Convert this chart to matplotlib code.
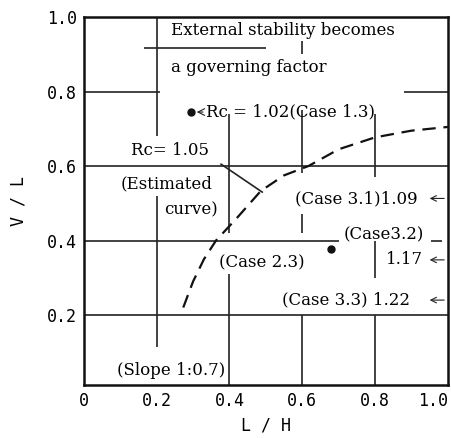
import matplotlib
matplotlib.use('Agg')
from matplotlib import pyplot as plt

# axis ticks
x_ticks = [0, 0.2, 0.4, 0.6, 0.8, 1.0]
x_tick_labels = ['0', '0.2', '0.4', '0.6', '0.8', '1.0']
y_ticks = [0.2, 0.4, 0.6, 0.8, 1.0]
y_tick_labels = ['0.2', '0.4', '0.6', '0.8', '1.0']

# estimated curve (L/H, V/L)
curve_x = [0.273, 0.30, 0.33, 0.363, 0.42, 0.486, 0.55, 0.617, 0.70, 0.80, 0.90, 1.0]
curve_y = [0.22, 0.29, 0.35, 0.40, 0.46, 0.533, 0.575, 0.60, 0.645, 0.677, 0.695, 0.705]

# case points
point_x = [0.295, 0.678]
point_y = [0.745, 0.377]

# remaining pieces of the grid (the scan has them cut where text sits)
h_segments = [(0.8, 0.0, 0.21), (0.8, 0.88, 1.0), (0.6, 0.0, 1.0),
              (0.4, 0.0, 0.70), (0.4, 0.955, 0.985), (0.2, 0.0, 1.0),
              (0.917, 0.165, 0.50)]
v_segments = [(0.2, 0.68, 1.0), (0.2, 0.113, 0.52),
              (0.4, 0.0, 0.31), (0.4, 0.42, 0.74),
              (0.6, 0.0, 0.2), (0.6, 0.42, 0.47), (0.6, 0.58, 0.75), (0.6, 0.90, 0.935),
              (0.8, 0.0, 0.2), (0.8, 0.30, 0.40), (0.8, 0.57, 0.74)]

serif = ['DejaVu Serif']
mono = ['DejaVu Sans Mono']

fig = plt.figure(figsize=(4.51, 4.38), dpi=100)
ax = fig.add_axes([0.186, 0.121, 0.807, 0.840])

for y, x0, x1 in h_segments:
    ax.plot([x0, x1], [y, y], color='#222222', lw=1.2, solid_capstyle='butt')
for x, y0, y1 in v_segments:
    ax.plot([x, x], [y0, y1], color='#222222', lw=1.2, solid_capstyle='butt')

ax.plot(curve_x, curve_y, color='#111111', lw=1.6, dashes=(6, 3.5))
ax.plot(point_x, point_y, 'o', color='#111111', ms=5)

# leader line from Rc=1.05 to the curve
ax.plot([0.377, 0.49], [0.605, 0.53], color='#222222', lw=1.2)

ax.set_xlim(0, 1.0)
ax.set_ylim(0.012, 1.0)
ax.set_xticks(x_ticks)
ax.set_yticks(y_ticks)
ax.set_xticklabels(x_tick_labels, family=mono, fontsize=12)
ax.set_yticklabels(y_tick_labels, family=mono, fontsize=12)
ax.get_xticklabels()[-1].set_horizontalalignment('right')
ax.tick_params(length=0, pad=5)
for s in ax.spines.values():
    s.set_linewidth(1.8)
    s.set_color('#111111')

ax.set_xlabel('L / H', family=mono, fontsize=12, labelpad=5)
ax.set_ylabel('V / L', family=mono, fontsize=12, labelpad=14)

fs = 12
dy = -0.012
ax.text(0.24, 0.977 + dy, 'External stability becomes', family=serif, fontsize=fs, va='center')
ax.text(0.24, 0.876 + dy, 'a governing factor', family=serif, fontsize=fs, va='center')
ax.annotate('Rc = 1.02(Case 1.3)', xy=(0.31, 0.745), xytext=(0.335, 0.745),
            family=serif, fontsize=fs, va='center',
            arrowprops=dict(arrowstyle='->', lw=0.8, color='#222222', shrinkA=0, shrinkB=0))
ax.text(0.13, 0.655 + dy, 'Rc= 1.05', family=serif, fontsize=fs, va='center')
ax.text(0.1, 0.563 + dy, '(Estimated', family=serif, fontsize=fs, va='center')
ax.text(0.22, 0.494 + dy, 'curve)', family=serif, fontsize=fs, va='center')
ax.text(0.58, 0.525 + dy, '(Case 3.1)1.09', family=serif, fontsize=fs, va='center')
ax.text(0.715, 0.427 + dy, '(Case3.2)', family=serif, fontsize=fs, va='center')
ax.text(0.83, 0.36 + dy, '1.17', family=serif, fontsize=fs, va='center')
ax.text(0.37, 0.353 + dy, '(Case 2.3)', family=serif, fontsize=fs, va='center')
ax.text(0.545, 0.252 + dy, '(Case 3.3) 1.22', family=serif, fontsize=fs, va='center')
ax.text(0.09, 0.064 + dy, '(Slope 1:0.7)', family=serif, fontsize=fs, va='center')

# small arrows pointing at the right border
for y in [0.525, 0.36, 0.252]:
    ax.annotate('', xy=(0.99, y + dy), xytext=(0.95, y + dy),
                arrowprops=dict(arrowstyle='<-', lw=0.8, color='#222222', shrinkA=0, shrinkB=0))

fig.savefig('out.png', dpi=100)
